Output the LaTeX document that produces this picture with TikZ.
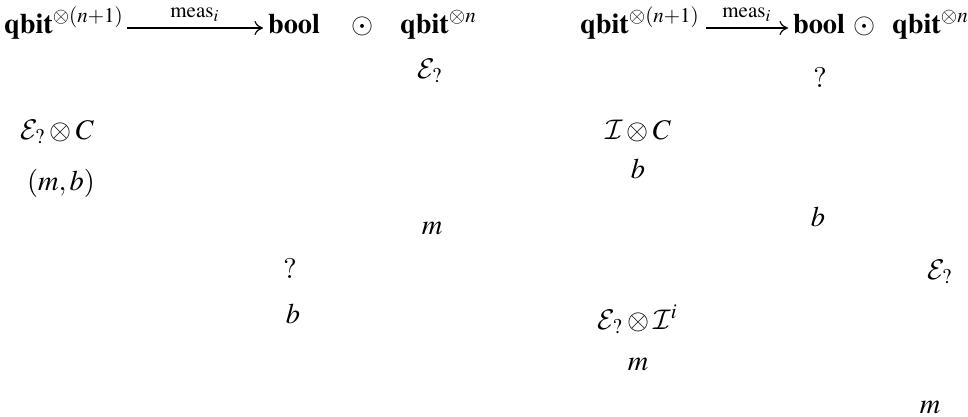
\documentclass[tikz,border=0pt]{standalone}
\usepackage{mathptmx}
\DeclareMathAlphabet{\mathcal}{OMS}{cmsy}{m}{n}
\usetikzlibrary{arrows.meta}
\begin{document}
\begin{tikzpicture}[x=0.3522pt,y=-0.3522pt,
  lbl/.style={inner sep=0pt,outer sep=0pt,anchor=base},
  lblw/.style={inner sep=0pt,outer sep=0pt,anchor=base west},
  arr/.style={-{To[length=3pt,width=5pt]},line width=0.4pt}]
\useasboundingbox (0,0) rectangle (968,417);
% left panel
\node[lblw] (lq) at (4,34) {$\mathbf{qbit}^{\otimes(n+1)}$};
\node[lblw] (lbool) at (268,34) {$\mathbf{bool}$};
\node[lbl] (lodot) at (363,34) {$\odot$};
\node[lblw] (lqn) at (400,34) {$\mathbf{qbit}^{\otimes n}$};
\coordinate (la1) at (127,28);
\coordinate (la2) at (263,28);
\draw[arr] (la1) -- node[above=2pt,inner sep=0pt] (lmeas) {$\scriptstyle\mathrm{meas}_i$} (la2);
\node[lbl] (lE) at (430,78) {$\mathcal{E}_?$};
\node[lbl] (lEC) at (57,139) {$\mathcal{E}_?\otimes C$};
\node[lbl] (lmb) at (61,190) {$(m,b)$};
\node[lbl] (lm) at (432,234) {$m$};
\node[lbl] (lq2) at (290,278) {?};
\node[lbl] (lb) at (293,323) {$b$};
% right panel
\node[lblw] (rq) at (580,34) {$\mathbf{qbit}^{\otimes(n+1)}$};
\node[lblw] (rbool) at (793,34) {$\mathbf{bool}$};
\node[lbl] (rodot) at (865,34) {$\odot$};
\node[lblw] (rqn) at (892,34) {$\mathbf{qbit}^{\otimes n}$};
\coordinate (ra1) at (706,28);
\coordinate (ra2) at (788,28);
\draw[arr] (ra1) -- node[above=2pt,inner sep=0pt] (rmeas) {$\scriptstyle\mathrm{meas}_i$} (ra2);
\node[lbl] (rq2) at (820,88) {?};
\node[lbl] (rIC) at (638,139) {$\mathcal{I}\otimes C$};
\node[lbl] (rb1) at (638,178) {$b$};
\node[lbl] (rb2) at (818,226) {$b$};
\node[lbl] (rE) at (940,279) {$\mathcal{E}_?$};
\node[lbl] (rEI) at (638,329) {$\mathcal{E}_?\otimes\mathcal{I}^i$};
\node[lbl] (rm1) at (638,370) {$m$};
\node[lbl] (rm2) at (930,413) {$m$};
\end{tikzpicture}
\end{document}
